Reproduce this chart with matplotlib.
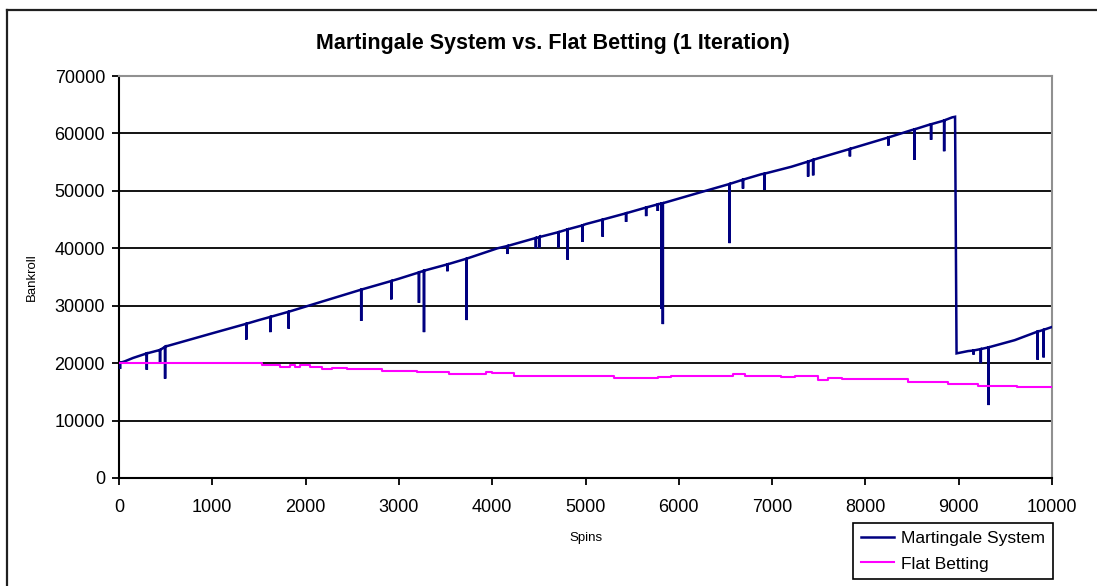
import matplotlib
matplotlib.use("Agg")
import matplotlib.pyplot as plt
from matplotlib.lines import Line2D

plt.rcParams['font.family'] = ['Liberation Sans', 'DejaVu Sans']

# ---------------- data ----------------
# Martingale system: main trend anchor points (spin, bankroll)
mart_trend_spins = [0, 60, 150, 300, 440, 500, 1000, 1500, 2052, 2500, 3000, 3500,
                    3727, 4057, 4500, 5000, 5500, 5811, 6200, 6563, 6885, 7207,
                    7500, 8000, 8500, 8700, 8850, 8930, 8961, 8977, 9100, 9600,
                    9850, 10000]
mart_trend_values = [20000, 20300, 20900, 21700, 22300, 22900, 25200, 27500, 30100,
                     32300, 34700, 37100, 38200, 40000, 41900, 44200, 46400, 47800,
                     49600, 51300, 52900, 54200, 55700, 58100, 60600, 61600, 62300,
                     62800, 62900, 21700, 22100, 24000, 25500, 26300]

# Martingale downward spikes: spin, level before the spike, lowest level
spike_spins = [11, 298, 440, 494, 1364, 1622, 1819, 2596, 2918, 3215, 3269, 3520,
               3727, 4164, 4468, 4504, 4708, 4809, 4970, 5185, 5435, 5650, 5775,
               5812, 5829, 6544, 6688, 6920, 7386, 7440, 7834, 8246, 8525, 8704,
               8844, 9159, 9237, 9320, 9846, 9910]
spike_tops = [20050, 21700, 22300, 22850, 26850, 28050, 28950, 32800, 34300, 35800,
              36100, 37200, 38200, 40400, 41800, 41950, 42800, 43300, 44000, 45000,
              46100, 47100, 47650, 47800, 47850, 51200, 51950, 53000, 55100, 55400,
              57300, 59300, 60700, 61600, 62250, 22200, 22450, 22750, 25500, 25800]
spike_bottoms = [19000, 18850, 20150, 17300, 24100, 25400, 26000, 27350, 31100,
                 30500, 25400, 36000, 27500, 39000, 40000, 40100, 40150, 38000,
                 41100, 42000, 44600, 45600, 46500, 29500, 26800, 40900, 50400,
                 50150, 52500, 52700, 56000, 57900, 55400, 58900, 56900, 21500,
                 20000, 12700, 20600, 21000]

# Flat betting: step change points (spin, bankroll)
flat_spins = [0, 1533, 1729, 1837, 1890, 1944, 2052, 2177, 2284, 2445, 2821, 3197,
              3537, 3931, 4003, 4236, 5310, 5775, 5918, 6581, 6706, 7100, 7243,
              7494, 7601, 7744, 8460, 8890, 9212, 9624, 10000]
flat_values = [20100, 19740, 19390, 19740, 19390, 19740, 19390, 18990, 19160, 18990,
               18640, 18520, 18120, 18520, 18290, 17830, 17420, 17650, 17830, 18120,
               17830, 17530, 17700, 17130, 17420, 17250, 16660, 16380, 16090, 15850,
               15850]

title = "Martingale System vs. Flat Betting (1 Iteration)"
series_names = ["Martingale System", "Flat Betting"]
x_ticks = [0, 1000, 2000, 3000, 4000, 5000, 6000, 7000, 8000, 9000, 10000]
y_ticks = [0, 10000, 20000, 30000, 40000, 50000, 60000, 70000]

# ---------------- build Martingale path ----------------
events = [(s, 0, [v]) for s, v in zip(mart_trend_spins, mart_trend_values)]
events += [(s, 1, [t, b, t]) for s, t, b in zip(spike_spins, spike_tops, spike_bottoms)]
events.sort(key=lambda e: (e[0], e[1]))
mx, my = [], []
for s, _, vals in events:
    for v in vals:
        mx.append(s)
        my.append(v)

# ---------------- figure ----------------
W, H = 1097, 586
fig = plt.figure(figsize=(W / 100, H / 100), dpi=100)
fig.patch.set_facecolor('white')

ax = fig.add_axes([119 / W, 1 - 478 / H, (1052 - 119) / W, (478 - 76) / H])
ax.set_xlim(0, 10000)
ax.set_ylim(0, 70000)

ax.plot(mx, my, color='#000080', lw=1.8, solid_joinstyle='miter', zorder=3,
        label=series_names[0])
ax.plot(flat_spins, flat_values, color='#FF00FF', lw=1.5, drawstyle='steps-post',
        zorder=4, label=series_names[1])

ax.set_xticks(x_ticks)
ax.set_yticks(y_ticks)
ax.set_xticklabels([str(t) for t in x_ticks])
ax.set_yticklabels([str(t) for t in y_ticks])
ax.tick_params(axis='both', direction='out', length=5, width=1.3, colors='black',
               labelsize=13)
ax.tick_params(axis='x', pad=10)
ax.tick_params(axis='y', pad=5)

ax.yaxis.grid(True, color='black', lw=1.3, zorder=1)
ax.xaxis.grid(False)
ax.set_axisbelow(True)

for side in ['left', 'bottom']:
    ax.spines[side].set_color('black')
    ax.spines[side].set_linewidth(1.5)
for side in ['top', 'right']:
    ax.spines[side].set_color('#909090')
    ax.spines[side].set_linewidth(1.5)

ax.set_ylabel("Bankroll", fontsize=9.5, labelpad=12)
ax.set_xlabel("Spins", fontsize=9.5, labelpad=12)

fig.text(553 / W, 1 - 43 / H, title, ha='center', va='center', fontsize=15.5,
         fontweight='bold')

# outer chart border (top and left edges visible)
fig.add_artist(Line2D([7 / W, 1.0], [1 - 10 / H, 1 - 10 / H], transform=fig.transFigure,
                      color='#202020', lw=1.6))
fig.add_artist(Line2D([7 / W, 7 / W], [0, 1 - 10 / H], transform=fig.transFigure,
                      color='#202020', lw=1.6))

leg = fig.legend(loc='upper left', bbox_to_anchor=(853 / W, 1 - 523 / H),
                 fontsize=12.5, frameon=True, fancybox=False, framealpha=1,
                 edgecolor='black', handlelength=1.9, borderpad=0.45,
                 labelspacing=0.6, handletextpad=0.4, borderaxespad=0)
leg.get_frame().set_linewidth(1.2)

fig.savefig("out.png", dpi=100)
